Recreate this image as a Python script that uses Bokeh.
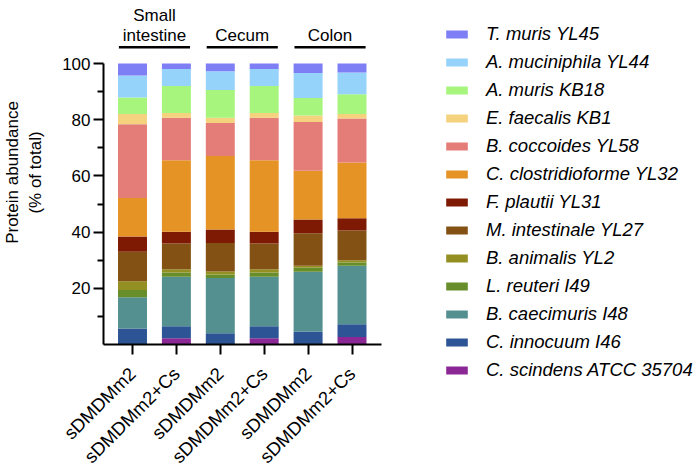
from bokeh.plotting import figure
from bokeh.layouts import row
from bokeh.models import ColumnDataSource, FixedTicker, Legend, LegendItem, Label, Range1d
from bokeh.embed import file_html
from bokeh.resources import INLINE

# ---- data (bottom of stack first) ----
samples = ["sDMDMm2", "sDMDMm2+Cs", "sDMDMm2", "sDMDMm2+Cs", "sDMDMm2", "sDMDMm2+Cs"]
species = [
    "C. scindens ATCC 35704",
    "C. innocuum I46",
    "B. caecimuris I48",
    "L. reuteri I49",
    "B. animalis YL2",
    "M. intestinale YL27",
    "F. plautii YL31",
    "C. clostridioforme YL32",
    "B. coccoides YL58",
    "E. faecalis KB1",
    "A. muris KB18",
    "A. muciniphila YL44",
    "T. muris YL45",
]
c_scindens = [0.0, 2.2, 0.0, 2.2, 0.0, 2.7]
c_innocuum = [5.7, 4.3, 4.0, 4.3, 4.6, 4.5]
b_caecimuris = [11.1, 17.6, 19.7, 17.6, 21.3, 20.8]
l_reuteri = [2.6, 1.5, 1.2, 1.5, 1.4, 1.2]
b_animalis = [3.1, 1.2, 1.1, 1.2, 0.7, 0.8]
m_intestinale = [10.5, 9.1, 10.1, 9.1, 11.6, 10.6]
f_plautii = [5.4, 4.2, 4.8, 4.2, 4.9, 4.3]
c_clostridioforme = [13.7, 25.5, 26.2, 25.5, 17.3, 19.9]
b_coccoides = [26.3, 15.1, 11.7, 15.1, 17.4, 15.6]
e_faecalis = [3.6, 1.7, 1.9, 1.7, 2.3, 1.6]
a_muris = [5.9, 9.6, 9.9, 9.6, 6.2, 7.1]
a_muciniphila = [7.8, 6.0, 6.6, 6.0, 8.9, 7.7]
t_muris = [4.3, 2.0, 2.8, 2.0, 3.4, 3.2]
y_ticks = [20, 40, 60, 80, 100]
y_minor = [10, 30, 50, 70, 90]
group_names = [("Small", "intestine"), ("Cecum",), ("Colon",)]

series = [c_scindens, c_innocuum, b_caecimuris, l_reuteri, b_animalis, m_intestinale,
          f_plautii, c_clostridioforme, b_coccoides, e_faecalis, a_muris, a_muciniphila, t_muris]
colors = ["#8b2895", "#2d5595", "#53908f", "#678e2a", "#948f23", "#845114",
          "#7e1a03", "#e69325", "#e47d78", "#f4d27e", "#a7f57c", "#96d3fa", "#7f7ff5"]

FONT = "Liberation Sans"
xs = list(range(1, len(samples) + 1))
data = {"x": xs}
keys = []
for i, s in enumerate(series):
    k = "s%d" % i
    keys.append(k)
    data[k] = s
source = ColumnDataSource(data)

px_per_x = 43.9
px_per_y = 2.81
frame_w, frame_h = 300, 344
x0 = 1 - 29 / px_per_x
p = figure(frame_width=frame_w, frame_height=frame_h,
           x_range=Range1d(x0, x0 + frame_w / px_per_x),
           y_range=Range1d(0, frame_h / px_per_y),
           output_backend="svg", toolbar_location=None,
           min_border_left=100, min_border_right=0, min_border_top=0, min_border_bottom=0)
p.outline_line_color = None
p.xgrid.visible = False
p.ygrid.visible = False

rs = p.vbar_stack(keys, x="x", width=0.66, color=colors, line_color=None, source=source)

# axes
xa = p.xaxis[0]
xa.ticker = FixedTicker(ticks=xs)
xa.major_label_overrides = {x: s for x, s in zip(xs, samples)}
xa.major_label_orientation = 0.785398
xa.bounds = (x0, 6 + 29.5 / px_per_x)
xa.axis_line_width = 2
xa.major_tick_line_width = 2
xa.major_tick_out = 10
xa.major_tick_in = 0
xa.minor_tick_line_color = None
xa.major_label_standoff = 16
xa.major_label_text_font = FONT
xa.major_label_text_font_size = "18.5px"
xa.major_label_text_color = "black"

ya = p.yaxis[0]
ya.ticker = FixedTicker(ticks=y_ticks, minor_ticks=y_minor)
ya.bounds = (0, 100)
ya.axis_line_width = 2
ya.major_tick_line_width = 2
ya.minor_tick_line_width = 2
ya.major_tick_out = 10
ya.major_tick_in = 0
ya.minor_tick_out = 6
ya.minor_tick_in = 0
ya.major_label_standoff = 3
ya.major_label_text_font = FONT
ya.major_label_text_font_size = "17px"
ya.major_label_text_color = "black"
ya.axis_label = "Protein abundance\n(% of total)"
ya.axis_label_text_font = FONT
ya.axis_label_text_font_size = "17px"
ya.axis_label_text_font_style = "normal"
ya.axis_label_text_color = "black"
ya.axis_label_standoff = 14

# group brackets and labels
line_y = 105.8
for g, names in enumerate(group_names):
    a = 2 * g + 1
    p.segment(x0=a - 0.31, x1=a + 1 + 0.31, y0=line_y, y1=line_y, line_color="black", line_width=2.5)
    for j, t in enumerate(reversed(names)):
        p.add_layout(Label(x=a + 0.5, y=110.0 + 7.0 * j, text=t, text_align="center",
                           text_baseline="alphabetic", text_font=FONT, text_font_size="17px",
                           text_color="black"))

# legend in a separate, axis-less figure (its x range excludes the bars, so only the legend shows)
lw, lh = 297, 460
p2 = figure(frame_width=lw, frame_height=lh, x_range=Range1d(-20, -19), y_range=Range1d(0, 1),
            x_axis_type=None, y_axis_type=None, output_backend="svg", toolbar_location=None,
            min_border=0)
p2.outline_line_color = None
lrs = p2.vbar_stack(keys, x="x", width=0.66, color=colors, line_color=None, source=source)
items = [LegendItem(label=species[i], renderers=[lrs[i]]) for i in reversed(range(len(species)))]
n = len(items)
item_h, gap = 22, 6
leg_h = n * item_h + (n - 1) * gap
leg_top = 34 - item_h // 2
legend = Legend(items=items, location=(40, lh - leg_top - leg_h), glyph_width=27, glyph_height=10,
                label_height=item_h, spacing=gap, padding=0, margin=0, label_standoff=16,
                border_line_color=None, background_fill_alpha=0,
                label_text_font=FONT, label_text_font_size="18.5px", label_text_font_style="italic",
                label_text_color="black")
p2.add_layout(legend, "center")

layout = row(p, p2, spacing=0)
open("out.html", "w").write(file_html(layout, INLINE))
